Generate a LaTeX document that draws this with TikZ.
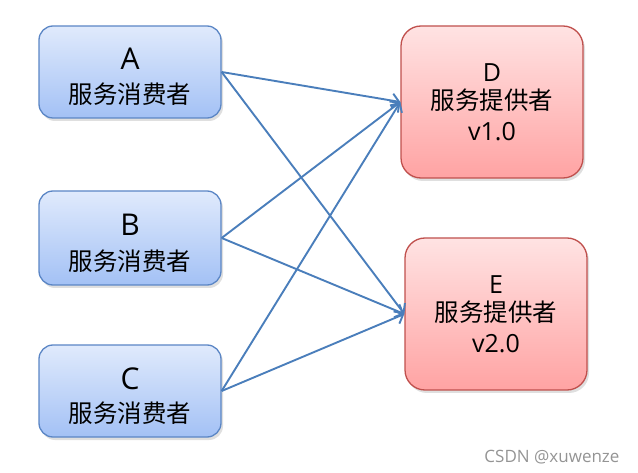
\documentclass[tikz,border=0pt]{standalone}
\usepackage{fontspec}
\setmainfont{Open Sans}
\newfontfamily\cjk{Noto Sans CJK SC}
\usetikzlibrary{arrows.meta,shadows}
\definecolor{bluetop}{HTML}{E0EAFC}
\definecolor{bluebot}{HTML}{A3C1F5}
\definecolor{blueline}{HTML}{5B86C5}
\definecolor{redtop}{HTML}{FFE3E3}
\definecolor{redbot}{HTML}{FFA3A3}
\definecolor{redline}{HTML}{C0504D}
\definecolor{arrowc}{HTML}{4A7EBB}
\tikzset{
  consumer/.style={draw=blueline, line width=1.3pt, rounded corners=14pt,
    top color=bluetop, bottom color=bluebot, minimum width=182pt, minimum height=92pt,
    inner sep=0pt,
    drop shadow={opacity=0.25, shadow xshift=2pt, shadow yshift=-3pt}},
  provider/.style={draw=redline, line width=1.3pt, rounded corners=20pt,
    top color=redtop, bottom color=redbot, minimum width=182pt, minimum height=152pt,
    inner sep=0pt,
    drop shadow={opacity=0.25, shadow xshift=2pt, shadow yshift=-3pt}},
  bigtxt/.style={anchor=base, inner sep=0pt, font=\fontsize{30}{36}\selectfont},
  midtxt/.style={anchor=base, inner sep=0pt, font=\fontsize{25}{30}\selectfont},
  cjktxt/.style={anchor=base, inner sep=0pt, font=\cjk\fontsize{24.5}{30}\selectfont},
  link/.style={draw=arrowc, line width=1.9pt, -{Straight Barb[length=7pt,width=14pt,line width=1.9pt]}}
}
\begin{document}
\begin{tikzpicture}[x=1pt,y=-1pt]
\useasboundingbox (0,0) rectangle (638,473);
\node[consumer] (A) at (130,72) {};
\node[consumer, minimum height=94pt] (B) at (130,238) {};
\node[consumer] (C) at (130,391) {};
\node[provider] (D) at (492,102) {};
\node[provider] (E) at (496,314) {};
\node[bigtxt] (A1) at ([yshift=2pt]A.center) {A};
\node[cjktxt] (A2) at ([yshift=-32pt]A.center) {服务消费者};
\node[bigtxt] (B1) at ([yshift=2pt]B.center) {B};
\node[cjktxt] (B2) at ([yshift=-33pt]B.center) {服务消费者};
\node[bigtxt] (C1) at ([yshift=2pt]C.center) {C};
\node[cjktxt] (C2) at ([yshift=-32pt]C.center) {服务消费者};
\node[midtxt] (D1) at ([yshift=20pt]D.center) {D};
\node[cjktxt] (D2) at ([yshift=-8pt]D.center) {服务提供者};
\node[midtxt] (D3) at ([yshift=-39pt]D.center) {v1.0};
\node[midtxt] (E1) at ([yshift=20pt]E.center) {E};
\node[cjktxt] (E2) at ([yshift=-8pt]E.center) {服务提供者};
\node[midtxt] (E3) at ([yshift=-39pt]E.center) {v2.0};
\draw[link] (A.east) -- (D.west);
\draw[link] (A.east) -- (E.west);
\draw[link] (B.east) -- (D.west);
\draw[link] (B.east) -- (E.west);
\draw[link] (C.east) -- (D.west);
\draw[link] (C.east) -- (E.west);
\node[text=black!42, font=\fontsize{17}{19}\selectfont, anchor=east] (W) at (623,457) {CSDN @xuwenze};
\end{tikzpicture}
\end{document}
